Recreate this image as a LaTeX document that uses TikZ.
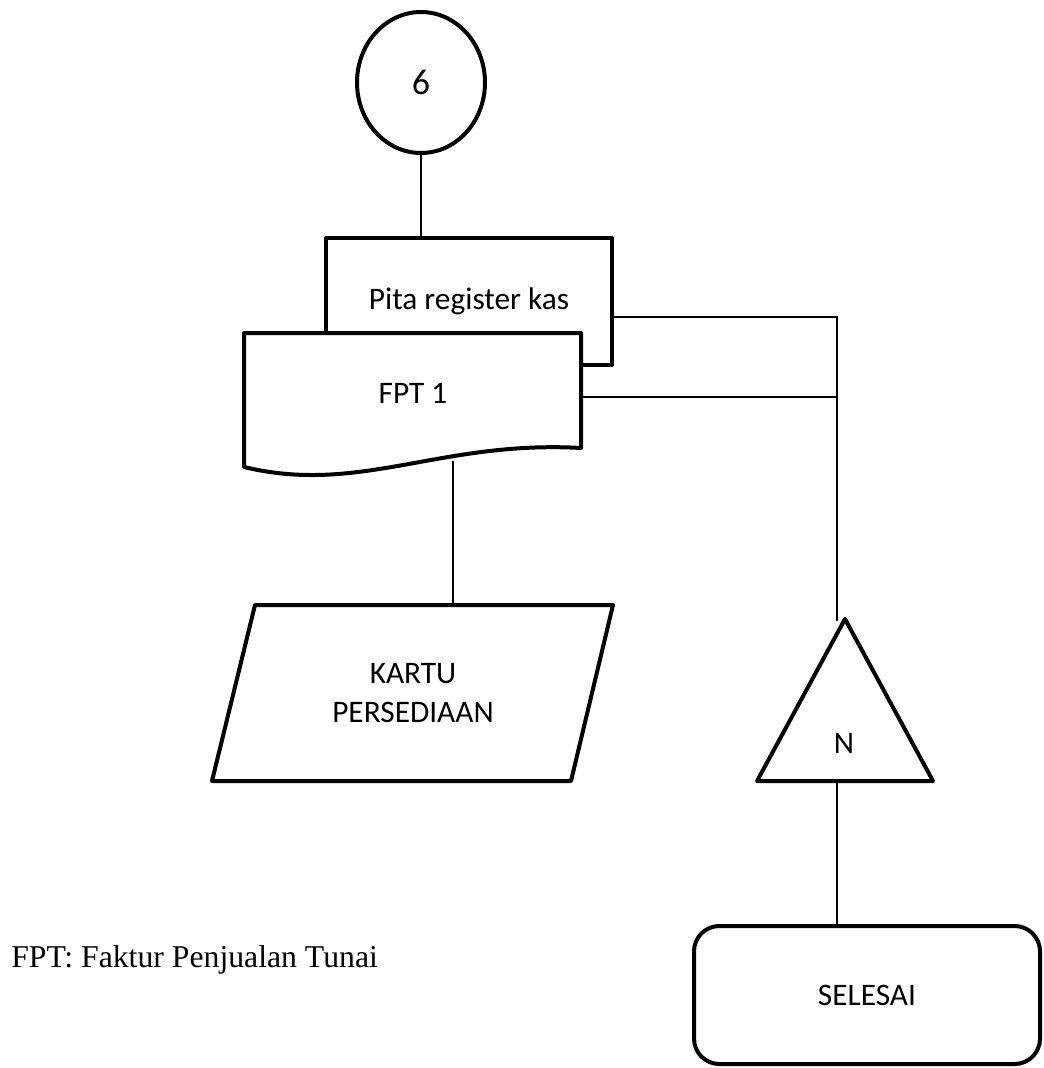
\documentclass[tikz,border=0pt]{standalone}
\usepackage{fontspec}
\setmainfont{Liberation Serif}
\newfontfamily\calibri{Carlito}
\usetikzlibrary{shapes.geometric}
\begin{document}
\begin{tikzpicture}[x=0.75pt,y=-0.75pt,
  shp/.style={draw, line width=3pt, line join=round, fill=white},
  conn/.style={line width=1pt},
  lbl/.style={font=\calibri\fontsize{23.5}{29}\selectfont, inner sep=0pt, align=center}]
\useasboundingbox (0,0) rectangle (1043,1068);

% junction coordinates
\coordinate (ja) at (837,317);
\coordinate (jb) at (837,397);
\coordinate (triTop) at (837,621);
\coordinate (triBase) at (837,781);
\coordinate (docBot) at (453,461);
\coordinate (kartuTop) at (453,605);

% invisible placeholders for shapes drawn as paths
\node[inner sep=0pt, minimum width=252.75pt, minimum height=100.5pt] (fptdoc) at (412.5,400) {};

% connectors
\draw[conn] (421,150) -- (421,238);
\draw[conn] (612,317) -- (ja) -- (triTop);
\draw[conn] ([yshift=2.25pt]fptdoc.east) -- (jb);
\draw[conn] (docBot) -- (kartuTop);
\draw[conn] (triBase) -- (837,926);

% start connector
\node[shp, ellipse, minimum width=96pt, minimum height=105.75pt, inner sep=0pt,
      font=\calibri\fontsize{27}{32}\selectfont] (c6) at (421,82.5) {6};

% back document
\node[shp, rectangle, minimum width=214.5pt, minimum height=95.25pt, lbl] (pita) at (469,301.5) {Pita register kas};

% front document
\path[shp] (244,333) -- (581,333) -- (581,448) .. controls (440,440) and (360,495) .. (244,467) -- cycle;
\node[lbl] (fptlbl) at (413,393) {FPT 1};

% parallelogram
\path[shp] (255,605) -- (613,605) -- (571,781) -- (212,781) -- cycle;
\node[lbl] (kartu) at (413,693) {KARTU\\PERSEDIAAN};

% off-page connector triangle
\path[shp] (845,619) -- (933,781) -- (757,781) -- cycle;
\node[lbl] (ntri) at (844,743.5) {N};

% terminator
\node[shp, rounded corners=19pt, minimum width=259.5pt, minimum height=103.5pt, lbl] (sel) at (867,995) {SELESAI};

% note
\node[anchor=base west, inner sep=0pt, font=\fontsize{23.8}{28}\selectfont] (note) at (11,967) {FPT: Faktur Penjualan Tunai};
\end{tikzpicture}
\end{document}
